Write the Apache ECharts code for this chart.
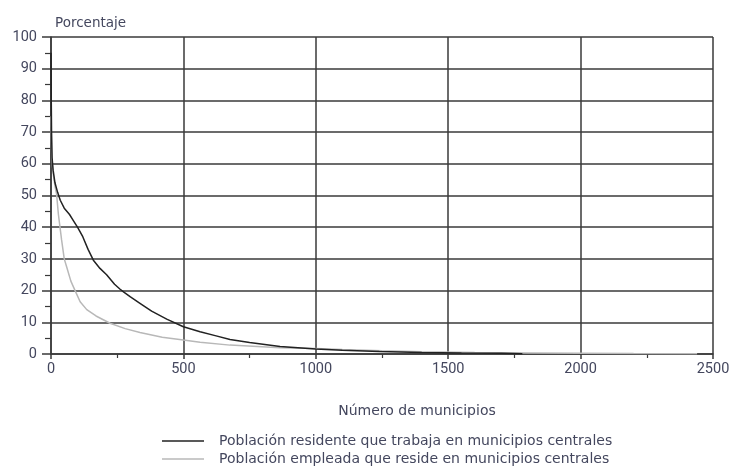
<!DOCTYPE html>
<html>
<head>
<meta charset="utf-8">
<script src="https://cdn.jsdelivr.net/npm/echarts@6/dist/echarts.min.js"></script>
<style>html,body{margin:0;padding:0;background:#fff;}#c{width:733px;height:466px;}</style>
</head>
<body>
<div id="c"></div>
<script>
const xTicks = [0, 500, 1000, 1500, 2000, 2500];
const yTicks = [0, 10, 20, 30, 40, 50, 60, 70, 80, 90, 100];

const seriesNames = [
  'Población residente que trabaja en municipios centrales',
  'Población empleada que reside en municipios centrales'
];

const municipiosResidente = [0, 1, 2, 4, 8, 15, 25, 35, 50, 70, 85, 100, 120, 140, 160, 185, 210, 240, 260, 275, 300, 336, 380, 437, 500, 563, 620, 676, 750, 865, 1000, 1100, 1240, 1400, 1550, 1700, 1780];
const porcentajeResidente = [95, 80, 70, 62, 58, 54, 51, 48.5, 46, 44, 42, 40, 37, 33, 29.6, 27, 25, 22, 20.5, 19.5, 18, 16, 13.5, 11, 8.6, 7, 5.8, 4.6, 3.6, 2.4, 1.6, 1.2, 0.8, 0.5, 0.3, 0.2, 0.1];

const municipiosEmpleada = [0, 3, 8, 15, 21, 28, 34, 40, 50, 59, 75, 91, 110, 135, 170, 223, 280, 336, 420, 500, 563, 676, 865, 1000, 1100, 1250, 1400, 1600, 1800, 2000, 2200, 2440];
const porcentajeEmpleada = [75, 62, 57, 53, 50.5, 44, 40, 36, 30, 27.5, 23, 20, 16.5, 14, 12, 9.7, 8, 6.8, 5.3, 4.4, 3.7, 2.8, 2.0, 1.7, 1.4, 1.0, 0.7, 0.5, 0.35, 0.25, 0.15, 0.1];

const pairs = (xs, ys) => xs.map((x, i) => [x, ys[i]]);

const labelColor = '#44475e';
const gridColor = '#3a3a3a';
const lineColors = ['#222', '#b8b8b8'];

const legendBase = {
  left: 157,
  icon: 'rect',
  itemWidth: 42, itemHeight: 1.5,
  textStyle: { fontFamily: 'DejaVu Sans', fontSize: 14, color: labelColor, padding: [0, 0, 0, 10] }
};

const chart = echarts.init(document.getElementById('c'));
chart.setOption({
  animation: false,
  backgroundColor: '#fff',
  grid: { left: 51, right: 20, top: 37, bottom: 112, containLabel: false },
  xAxis: {
    type: 'value',
    min: xTicks[0], max: xTicks[xTicks.length - 1], interval: 500,
    name: 'Número de municipios',
    nameLocation: 'middle', nameGap: 50,
    nameTextStyle: { fontFamily: 'DejaVu Sans', fontSize: 14, color: labelColor, padding: [0, 0, 0, 70] },
    axisLine: { show: true, lineStyle: { color: gridColor, width: 1.5 } },
    axisTick: { show: true, inside: false, length: 5, lineStyle: { color: gridColor, width: 1.5 } },
    minorTick: { show: true, splitNumber: 2, length: 4, lineStyle: { color: gridColor, width: 1.2 } },
    axisLabel: { fontFamily: 'Roboto', fontSize: 14.5, color: labelColor, margin: 8, formatter: v => String(v) },
    splitLine: { show: true, lineStyle: { color: gridColor, width: 1.5 } }
  },
  yAxis: {
    type: 'value',
    min: yTicks[0], max: yTicks[yTicks.length - 1], interval: 10,
    name: 'Porcentaje',
    nameLocation: 'end', nameGap: 7,
    nameTextStyle: { fontFamily: 'DejaVu Sans', fontSize: 13.5, color: labelColor, align: 'left', padding: [0, 0, 0, 4] },
    axisLine: { show: true, lineStyle: { color: gridColor, width: 1.5 } },
    axisTick: { show: true, inside: false, length: 9, lineStyle: { color: gridColor, width: 1.5 } },
    minorTick: { show: true, splitNumber: 2, length: 6, lineStyle: { color: gridColor, width: 1.2 } },
    axisLabel: { fontFamily: 'Roboto', fontSize: 14.5, color: labelColor, margin: 14, formatter: v => String(v) },
    splitLine: { show: true, lineStyle: { color: gridColor, width: 1.5 } }
  },
  legend: [
    Object.assign({}, legendBase, { top: 429, data: [seriesNames[0]] }),
    Object.assign({}, legendBase, { top: 447, data: [seriesNames[1]] })
  ],
  series: [
    {
      name: seriesNames[0], type: 'line', symbol: 'none',
      data: pairs(municipiosResidente, porcentajeResidente),
      lineStyle: { color: lineColors[0], width: 1.5 }, itemStyle: { color: lineColors[0] }, z: 3
    },
    {
      name: seriesNames[1], type: 'line', symbol: 'none',
      data: pairs(municipiosEmpleada, porcentajeEmpleada),
      lineStyle: { color: lineColors[1], width: 1.5 }, itemStyle: { color: lineColors[1] }, z: 2
    }
  ]
});
</script>
</body>
</html>
